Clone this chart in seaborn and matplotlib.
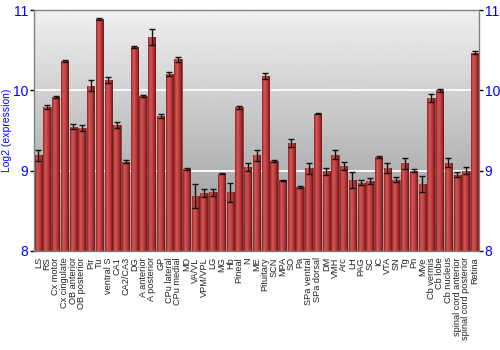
import numpy as np
import pandas as pd
import matplotlib
matplotlib.use("Agg")
import matplotlib.pyplot as plt
import seaborn as sns
from matplotlib.colors import LinearSegmentedColormap

regions = ["LS", "RS", "Cx motor", "Cx cingulate", "OB anterior", "OB posterior", "Pir", "Tu",
           "ventral S", "CA1", "CA2/CA3", "DG", "A anterior", "A posterior", "GP", "CPu lateral",
           "CPu medial", "MD", "VA/VL", "VPM/VPL", "LG", "MG", "Hb", "Pineal", "N", "ME",
           "Pituitary", "SCN", "MPA", "SO", "Pa", "SPa ventral", "SPa dorsal", "DM", "VMH",
           "Arc", "LH", "PAG", "SC", "IC", "VTA", "SN", "Tg", "Pn", "MVe", "Cb vermis",
           "Cb lobe", "Cb nucleus", "spinal cord anterior", "spinal cord posterior", "Retina"]
expression = [9.19, 9.79, 9.92, 10.37, 9.55, 9.53, 10.06, 10.89,
              10.13, 9.57, 9.11, 10.54, 9.93, 10.66, 9.68, 10.20,
              10.39, 9.02, 8.68, 8.72, 8.73, 8.96, 8.73, 9.79, 9.04, 9.19,
              10.18, 9.12, 8.88, 9.35, 8.80, 9.03, 9.71, 8.99, 9.20,
              9.06, 8.88, 8.85, 8.87, 9.17, 9.03, 8.89, 9.09, 9.00, 8.83, 9.91,
              10.00, 9.10, 8.95, 9.00, 10.47]
error = [0.07, 0.025, 0.01, 0.015, 0.03, 0.04, 0.07, 0.015,
         0.04, 0.04, 0.02, 0.015, 0.01, 0.10, 0.025, 0.025,
         0.03, 0.015, 0.15, 0.05, 0.04, 0.005, 0.12, 0.02, 0.05, 0.07,
         0.04, 0.01, 0.01, 0.05, 0.01, 0.07, 0.01, 0.04, 0.06,
         0.05, 0.10, 0.03, 0.04, 0.01, 0.06, 0.03, 0.07, 0.02, 0.10, 0.05,
         0.02, 0.06, 0.03, 0.04, 0.02]
yticks = [8, 9, 10, 11]

df = pd.DataFrame({"region": regions, "value": expression, "err": error})

sns.set_style("white")
plt.rcParams["font.family"] = ["Liberation Sans", "DejaVu Sans"]

fig = plt.figure(figsize=(5, 3.5), dpi=100)
ax = fig.add_axes([0.068, 0.283, 0.89, 0.688])

sns.barplot(data=df, x="region", y="value", color="#c04040", errorbar=None,
            width=0.84, ax=ax, zorder=3)

ymin, ymax = 8, 11

# background vertical gradient
grad = np.linspace(0.94, 0.58, 256).reshape(-1, 1)
ax.imshow(grad, cmap="gray", vmin=0, vmax=1, aspect="auto",
          extent=(0, 1, 0, 1), transform=ax.transAxes, zorder=0, origin="upper")

# bar horizontal gradient
bar_cmap = LinearSegmentedColormap.from_list(
    "barg", ["#8a2222", "#d45555", "#c84848", "#a83030", "#701515"])
hgrad = np.linspace(0, 1, 64).reshape(1, -1)
for p in ax.patches:
    x0 = p.get_x()
    w = p.get_width()
    h = p.get_height()
    im = ax.imshow(hgrad, cmap=bar_cmap, aspect="auto",
                   extent=(x0, x0 + w, ymin, h), zorder=3.5, origin="lower")
    im.set_clip_path(p)
    p.set_edgecolor("#6a1a1a")
    p.set_linewidth(0.4)

ax.set_xlim(-0.5, len(regions) - 0.5)
ax.set_ylim(ymin, ymax)

ax.errorbar(range(len(regions)), df["value"], yerr=df["err"], fmt="none",
            ecolor="#111111", elinewidth=1.0, capsize=2.2, capthick=1.0, zorder=5)

for yv in [9, 10]:
    ax.axhline(yv, color="white", lw=1.3, zorder=1)

ax.set_yticks(yticks)
ax.set_yticklabels([str(v) for v in yticks])
ax.tick_params(axis="y", left=True, right=True, labelleft=True, labelright=True,
               length=3, width=1, color="black", labelcolor="#0000ff", labelsize=10, pad=1)
ax.tick_params(axis="x", bottom=False, labelsize=6.6, labelcolor="#222222", pad=1)
for lab in ax.get_xticklabels():
    lab.set_rotation(90)

ax.set_xlabel("")
ax.set_ylabel("Log2 (expression)", color="#0000ff", fontsize=7.5)
ax.yaxis.set_label_coords(-0.05, 0.5)

for s in ["top", "left", "right", "bottom"]:
    ax.spines[s].set_visible(True)
    ax.spines[s].set_color("#808080")
    ax.spines[s].set_linewidth(1)
    ax.spines[s].set_zorder(6)

fig.savefig("out.png", dpi=100)
